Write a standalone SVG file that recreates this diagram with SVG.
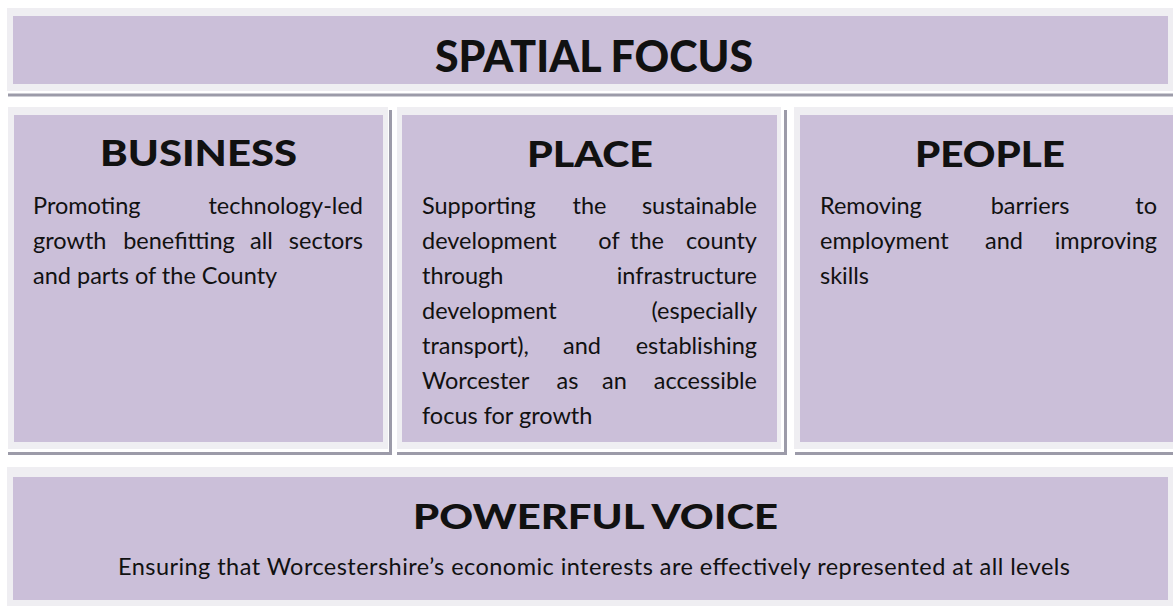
<svg xmlns="http://www.w3.org/2000/svg" width="1173" height="606" viewBox="0 0 1173 606">
<style>
.frame{fill:#efeef2}
.box{fill:#cbbfd9}
.sh{stroke:#9c9ba9;stroke-width:3;fill:none}
.h{font-family:Lato,"Open Sans","Liberation Sans",sans-serif;font-weight:900;fill:#111;text-anchor:middle}
.b{font-family:Lato,"Open Sans","Liberation Sans",sans-serif;font-size:23.5px;fill:#111}
.r{text-anchor:end}
.m{text-anchor:middle}
</style>
<rect width="1173" height="606" fill="#ffffff"/>
<g id="spatial-focus">
<rect class="frame" x="7" y="8" width="1170" height="83"/>
<rect class="box" x="13" y="16" width="1155" height="68"/>
<line class="sh" x1="8" y1="95" x2="1173" y2="95"/>
<text class="h" x="594" y="72" font-size="44" textLength="318" lengthAdjust="spacingAndGlyphs">SPATIAL FOCUS</text>
</g>
<g id="business">
<rect class="frame" x="8" y="107" width="380" height="342"/>
<rect class="box" x="14" y="115" width="369" height="327"/>
<polyline class="sh" points="390.5,110 390.5,453.5 8,453.5"/>
<text class="h" x="198.5" y="166" font-size="36" textLength="197" lengthAdjust="spacingAndGlyphs">BUSINESS</text>
<text class="b" x="33" y="214">Promoting</text>
<text class="b r" x="363" y="214">technology-led</text>
<text class="b" x="33" y="249">growth</text>
<text class="b m" x="179" y="249">benefitting</text>
<text class="b m" x="261.5" y="249">all</text>
<text class="b r" x="363" y="249">sectors</text>
<text class="b" x="33" y="284">and parts of the County</text>
</g>
<g id="place">
<rect class="frame" x="397" y="107" width="384" height="342"/>
<rect class="box" x="402" y="115" width="375" height="327"/>
<polyline class="sh" points="785.5,110 785.5,453.5 397,453.5"/>
<text class="h" x="590" y="167" font-size="36" textLength="126" lengthAdjust="spacingAndGlyphs">PLACE</text>
<text class="b" x="422" y="214">Supporting</text>
<text class="b m" x="589.5" y="214">the</text>
<text class="b r" x="757" y="214">sustainable</text>
<text class="b" x="422" y="249">development</text>
<text class="b m" x="609" y="249">of</text>
<text class="b m" x="647" y="249">the</text>
<text class="b r" x="757" y="249">county</text>
<text class="b" x="422" y="284">through</text>
<text class="b r" x="757" y="284">infrastructure</text>
<text class="b" x="422" y="319">development</text>
<text class="b r" x="757" y="319">(especially</text>
<text class="b" x="422" y="354">transport),</text>
<text class="b m" x="582" y="354">and</text>
<text class="b r" x="757" y="354">establishing</text>
<text class="b" x="422" y="389">Worcester</text>
<text class="b m" x="567.5" y="389">as</text>
<text class="b m" x="614.5" y="389">an</text>
<text class="b r" x="757" y="389">accessible</text>
<text class="b" x="422" y="424">focus for growth</text>
</g>
<g id="people">
<rect class="frame" x="794" y="107" width="385" height="342"/>
<rect class="box" x="800" y="115" width="373" height="327"/>
<line class="sh" x1="795" y1="453.5" x2="1173" y2="453.5"/>
<text class="h" x="990" y="167" font-size="36" textLength="150" lengthAdjust="spacingAndGlyphs">PEOPLE</text>
<text class="b" x="820" y="214">Removing</text>
<text class="b m" x="1030" y="214">barriers</text>
<text class="b r" x="1157" y="214">to</text>
<text class="b" x="820" y="249">employment</text>
<text class="b m" x="1004" y="249">and</text>
<text class="b r" x="1157" y="249">improving</text>
<text class="b" x="820" y="284">skills</text>
</g>
<g id="powerful-voice">
<rect class="frame" x="7" y="467" width="1170" height="139"/>
<rect class="box" x="13" y="477" width="1155" height="123"/>
<text class="h" x="595.5" y="529" font-size="34" textLength="365" lengthAdjust="spacingAndGlyphs">POWERFUL VOICE</text>
<text class="b m" x="594" y="575" textLength="952" lengthAdjust="spacing">Ensuring that Worcestershire’s economic interests are effectively represented at all levels</text>
</g>
<g id="connectors"></g>
</svg>
